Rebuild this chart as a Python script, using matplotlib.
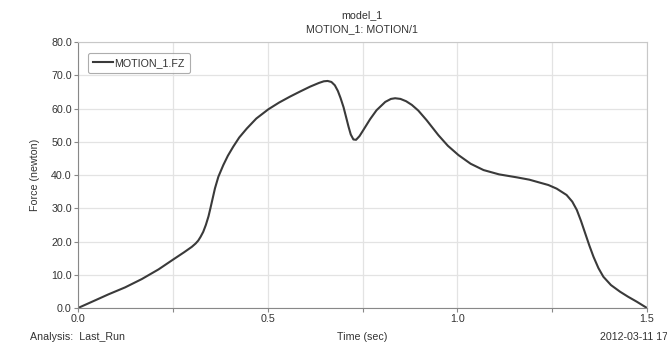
import matplotlib.pyplot as plt
from matplotlib.ticker import MultipleLocator

plt.rcParams['font.family'] = ['Liberation Sans', 'DejaVu Sans']

# values
time_s = [0.0, 0.045, 0.080, 0.124, 0.168, 0.212, 0.251, 0.280, 0.300, 0.310,
          0.317, 0.323, 0.330, 0.337, 0.344, 0.349, 0.355, 0.361, 0.370, 0.383,
          0.395, 0.409, 0.425, 0.445, 0.470, 0.502, 0.530, 0.559, 0.585, 0.612,
          0.635, 0.648, 0.658, 0.668, 0.677, 0.685, 0.692, 0.700, 0.707, 0.713,
          0.719, 0.726, 0.733, 0.742, 0.752, 0.770, 0.787, 0.810, 0.825, 0.836,
          0.850, 0.865, 0.880, 0.897, 0.919, 0.950, 0.975, 1.003, 1.035, 1.069,
          1.110, 1.157, 1.190, 1.218, 1.240, 1.262, 1.288, 1.303, 1.315, 1.326,
          1.337, 1.348, 1.359, 1.372, 1.385, 1.405, 1.429, 1.450, 1.473, 1.500]
force_n = [0.0, 2.3, 4.1, 6.2, 8.7, 11.6, 14.6, 16.8, 18.4, 19.4,
           20.3, 21.4, 22.9, 25.0, 27.6, 30.0, 33.0, 36.0, 39.5, 43.0,
           45.8, 48.5, 51.3, 54.0, 57.0, 59.8, 61.8, 63.6, 65.1, 66.6,
           67.7, 68.2, 68.3, 68.0, 67.0, 65.3, 63.2, 60.4, 57.3, 54.6,
           52.2, 50.7, 50.6, 51.7, 53.5, 56.8, 59.5, 62.0, 62.9, 63.1,
           62.9, 62.2, 61.1, 59.4, 56.5, 52.0, 48.8, 46.0, 43.4, 41.5,
           40.2, 39.3, 38.6, 37.7, 37.0, 35.9, 34.0, 32.0, 29.5, 26.2,
           22.5, 18.8, 15.4, 12.0, 9.4, 6.9, 4.9, 3.4, 1.9, 0.0]

x_ticks = [0.0, 0.5, 1.0, 1.5]
y_ticks = [0, 10, 20, 30, 40, 50, 60, 70, 80]

txt = '#333333'
fs = 7.7
fig = plt.figure(figsize=(6.67, 3.42), dpi=100)
ax = fig.add_axes([0.117, 0.0994, 0.853, 0.7776])

ax.plot(time_s, force_n, color='#3a3a3a', lw=1.5, label='MOTION_1.FZ',
        solid_joinstyle='round')

ax.set_xlim(0, 1.5)
ax.set_ylim(0, 80)
ax.set_xticks(x_ticks)
ax.set_xticklabels([f'{v:.1f}' for v in x_ticks])
ax.xaxis.set_minor_locator(MultipleLocator(0.25))
ax.set_yticks(y_ticks)
ax.set_yticklabels([f'{v:.1f}' for v in y_ticks])
ax.grid(True, which='both', color='#e3e3e3', lw=0.9)
ax.set_axisbelow(True)
ax.tick_params(which='both', length=3, width=0.8, color='#888888',
               labelsize=fs, labelcolor=txt, pad=1.5)

for side in ['left', 'bottom']:
    ax.spines[side].set_color('#888888')
for side in ['top', 'right']:
    ax.spines[side].set_color('#c8c8c8')

ax.set_ylabel('Force (newton)', fontsize=fs, color=txt, labelpad=8)
fig.text(0.543, 0.006, 'Time (sec)', fontsize=fs, color=txt, ha='center')
fig.text(0.045, 0.006, 'Analysis:  Last_Run', fontsize=fs, color=txt, ha='left')
fig.text(0.90, 0.006, '2012-03-11 17', fontsize=fs, color=txt, ha='left')
fig.text(0.543, 0.948, 'model_1', fontsize=fs, color=txt, ha='center')
fig.text(0.543, 0.905, 'MOTION_1: MOTION/1', fontsize=fs, color=txt, ha='center')

leg = ax.legend(loc='upper left', fontsize=fs, frameon=True, fancybox=True,
                handlelength=1.8, handletextpad=0.15, borderpad=0.5,
                bbox_to_anchor=(0.008, 0.98))
leg.get_frame().set_edgecolor('#999999')
leg.get_frame().set_linewidth(0.8)
for t in leg.get_texts():
    t.set_color(txt)

fig.savefig('out.png', dpi=100)
